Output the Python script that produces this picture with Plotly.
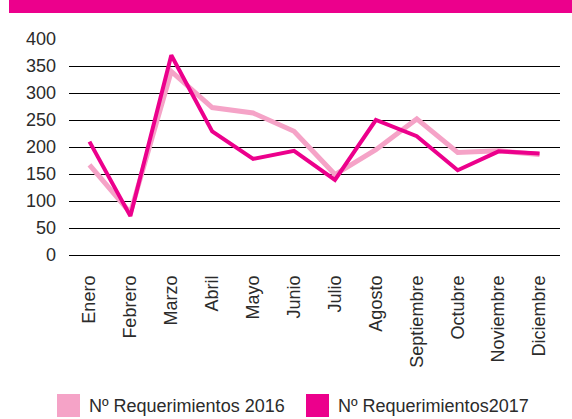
import plotly.graph_objects as go

months = ["Enero", "Febrero", "Marzo", "Abril", "Mayo", "Junio", "Julio",
          "Agosto", "Septiembre", "Octubre", "Noviembre", "Diciembre"]
req_2016 = [167, 78, 340, 273, 263, 229, 149, 195, 252, 190, 193, 186]
req_2017 = [210, 72, 370, 229, 178, 193, 139, 250, 220, 157, 192, 188]
series_names = ["Nº Requerimientos 2016", "Nº Requerimientos2017"]
y_ticks = [0, 50, 100, 150, 200, 250, 300, 350, 400]

c_light = "#F5A3C7"
c_dark = "#EC008C"
font_fam = "Liberation Sans, Arial, sans-serif"
txt_col = "#2b2b2b"

W, H = 572, 419
L, R, T, B = 69, 12, 39, 164
pw, ph = W - L - R, H - T - B

def px_x(x):
    return (x - L) / pw

def px_y(y):
    return (H - B - y) / ph

fig = go.Figure()
fig.add_trace(go.Scatter(x=months, y=req_2016, mode="lines", name=series_names[0],
                         line=dict(color=c_light, width=5), showlegend=False))
fig.add_trace(go.Scatter(x=months, y=req_2017, mode="lines", name=series_names[1],
                         line=dict(color=c_dark, width=4), showlegend=False))

shapes = [
    dict(type="rect", xref="paper", yref="paper", x0=px_x(9), x1=px_x(572),
         y0=px_y(13), y1=px_y(0), fillcolor=c_dark, line=dict(width=0), layer="above"),
]
annotations = []
leg = [(57, c_light, series_names[0]), (306, c_dark, series_names[1])]
for x0, col, name in leg:
    shapes.append(dict(type="rect", xref="paper", yref="paper", x0=px_x(x0), x1=px_x(x0 + 23),
                       y0=px_y(417), y1=px_y(394), fillcolor=col, line=dict(width=0)))
    annotations.append(dict(xref="paper", yref="paper", x=px_x(x0 + 30), y=px_y(405.5),
                            text=name, showarrow=False, xanchor="left", yanchor="middle",
                            font=dict(family=font_fam, size=18, color=txt_col)))

fig.update_layout(
    width=W, height=H,
    margin=dict(l=L, r=R, t=T, b=B, pad=0),
    paper_bgcolor="white", plot_bgcolor="white",
    shapes=shapes, annotations=annotations,
    showlegend=False,
    xaxis=dict(type="category", range=[-0.5, 11.5], showgrid=False, zeroline=False,
               showline=False, ticks="", tickangle=-90, ticklabelstandoff=16,
               tickfont=dict(family=font_fam, size=18, color=txt_col)),
    yaxis=dict(range=[0, 400], tickvals=y_ticks, showgrid=True, gridcolor="black",
               gridwidth=1, zeroline=True, zerolinecolor="black", zerolinewidth=1,
               showline=False, ticks="", ticklabelstandoff=12,
               tickfont=dict(family=font_fam, size=18, color=txt_col)),
)

fig.write_html("out.html", config={"displayModeBar": False},
               post_script="document.body.style.margin='0';document.body.style.overflow='hidden';")
